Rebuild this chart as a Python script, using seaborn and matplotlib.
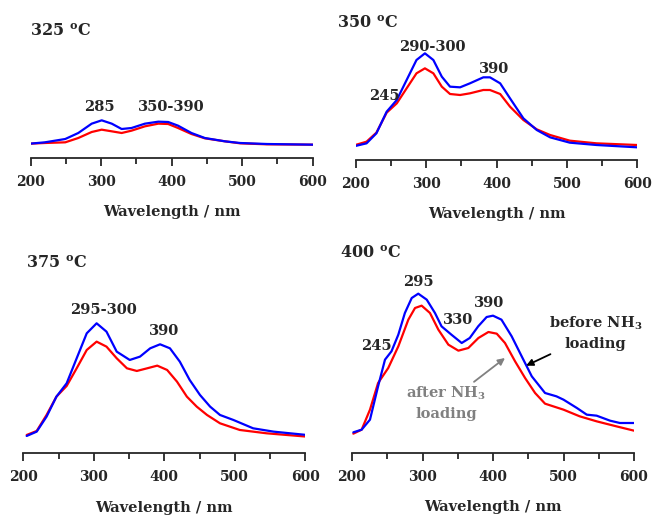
import numpy as np
import pandas as pd
import matplotlib
matplotlib.use("Agg")
import matplotlib.pyplot as plt
from matplotlib.ticker import MultipleLocator
import seaborn as sns

# Spectra (arbitrary absorbance units)
wl_325 = [199, 220, 249, 267.5, 286.5, 300.7, 315, 329, 343, 362, 381, 395, 409, 428, 447, 475.6, 497, 535, 600]
ab_325_before = [3, 7, 17, 35, 63, 73, 63, 47, 50, 63, 69, 68, 57, 35, 20, 10, 5, 2, 0]
ab_325_after = [3, 5, 7, 20, 38, 45, 40, 35, 42, 55, 63, 62, 50, 32, 19, 10, 4, 1, 0]

wl_350 = [199, 215, 229, 243.6, 258, 272, 286, 298, 310, 322, 333.7, 348, 362, 381, 390.5, 405, 419,
          438, 457, 476, 504, 542, 600]
ab_350_before = [-3, 5, 35, 100, 135, 195, 255, 275, 255, 205, 175, 173, 185, 203, 203, 185, 140,
                 80, 45, 23, 7, 0, -7]
ab_350_after = [0, 10, 37, 97, 125, 170, 215, 230, 215, 175, 153, 150, 155, 165, 165, 153, 115,
                75, 47, 30, 13, 5, 0]

wl_375_before = [204.8, 219, 233, 247, 261.5, 275.7, 290, 304, 318, 332.5, 351, 365.5, 380, 394, 408,
                 422, 436, 450.6, 465, 479, 498, 526, 555, 602]
ab_375_before = [-3, 10, 55, 115, 155, 230, 305, 335, 310, 250, 225, 235, 260, 272, 260,
                 220, 165, 120, 85, 60, 45, 20, 10, 0]
wl_375_after = [204.8, 219, 233, 247, 261.5, 275.7, 290, 304, 318, 332.5, 347, 361, 375.7, 390, 404,
                418, 432, 446, 460.6, 479, 507, 545, 602]
ab_375_after = [0, 12, 60, 115, 147, 200, 255, 280, 265, 230, 200, 192, 200, 208, 195,
                160, 115, 85, 60, 35, 15, 5, -5]

wl_400_before = [201.9, 213.7, 225.5, 237, 246.8, 256, 265.7, 275, 284.7, 294, 306, 317.7, 327, 341,
                 355.6, 367, 379, 391, 400, 412, 426.5, 440.7, 455, 473.8, 490, 500, 519, 533, 547,
                 566, 580, 600]
ab_400_before = [0, 8, 38, 138, 218, 243, 293, 358, 403, 416, 398, 358, 318, 293,
                 268, 283, 318, 346, 350, 338, 288, 228, 168, 118, 108, 98, 73, 53, 50,
                 35, 28, 28]
wl_400_after = [201.9, 213.7, 225.5, 237, 251.4, 265.7, 279.9, 289.4, 298.8, 310.6, 322.5, 336.7,
                350.9, 365, 379.3, 393.5, 405.3, 417, 431.3, 445.5, 459.7, 473.8, 500, 523, 547,
                575, 600]
ab_400_after = [-4, 8, 68, 148, 193, 258, 338, 373, 380, 358, 308, 263,
                245, 253, 283, 301, 296, 268, 213, 163, 118, 86, 68, 48, 33,
                18, 5]

sns.set_style("ticks")
plt.rcParams['font.family'] = ['DejaVu Serif']
plt.rcParams['font.weight'] = 'bold'
plt.rcParams['mathtext.fontset'] = 'custom'
plt.rcParams['mathtext.rm'] = 'DejaVu Serif:bold'
plt.rcParams['mathtext.it'] = 'DejaVu Serif:bold'
plt.rcParams['mathtext.bf'] = 'DejaVu Serif:bold'

W, H = 655, 516
fig = plt.figure(figsize=(6.55, 5.16), dpi=100)


def make_axes(x0, x1, axis_y, ylo, hpx):
    ax = fig.add_axes([x0 / W, (H - axis_y) / H, (x1 - x0) / W, hpx / H])
    ax.set_xlim(200, 600)
    ax.set_ylim(ylo, ylo + 3 * hpx)
    for s in ['left', 'top', 'right']:
        ax.spines[s].set_visible(False)
    ax.spines['bottom'].set_linewidth(1.3)
    ax.set_yticks([])
    ax.xaxis.set_major_locator(MultipleLocator(100))
    ax.xaxis.set_minor_locator(MultipleLocator(50))
    ax.tick_params(axis='x', which='major', length=6, width=1.3, pad=6, labelsize=10)
    ax.tick_params(axis='x', which='minor', length=4, width=1.3)
    ax.set_xlabel('Wavelength / nm', fontsize=10.5, fontweight='bold', labelpad=12)
    ax.set_ylabel('')
    return ax


def draw(ax, wb, yb, wa, ya):
    sns.lineplot(x=wa, y=ya, color='#ff0000', lw=1.6, ax=ax, solid_joinstyle='round')
    sns.lineplot(x=wb, y=yb, color='#0000ff', lw=1.6, ax=ax, solid_joinstyle='round')


ax1 = make_axes(30.7, 312.7, 158, -40, 138)
draw(ax1, wl_325, ab_325_before, wl_325, ab_325_after)
ax2 = make_axes(356, 637.3, 160, -45, 138)
draw(ax2, wl_350, ab_350_before, wl_350, ab_350_after)
ax3 = make_axes(23.3, 305.3, 453.3, -55, 200)
draw(ax3, wl_375_before, ab_375_before, wl_375_after, ab_375_after)
ax4 = make_axes(352, 634, 453, -62, 200)
draw(ax4, wl_400_before, ab_400_before, wl_400_after, ab_400_after)

lab = dict(ha='center', va='center', fontsize=10.5, fontweight='bold')
ax1.text(297, 113, '285', **lab)
ax1.text(400, 113, '350-390', **lab)
ax2.text(308, 295, '290-300', **lab)
ax2.text(396, 227, '390', **lab)
ax2.text(240, 148, '245', **lab)
ax3.text(313, 375, '295-300', **lab)
ax3.text(399, 313, '390', **lab)
ax4.text(294, 450, '295', **lab)
ax4.text(351, 338, '330', **lab)
ax4.text(395, 388, '390', **lab)
ax4.text(235, 260, '245', **lab)

ax4.annotate('before NH$_3$\nloading', xy=(447, 200), xytext=(545, 298),
             ha='center', va='center', fontsize=10.5, fontweight='bold', linespacing=1.4,
             arrowprops=dict(arrowstyle='-|>', color='black', lw=1.3,
                             shrinkA=22, shrinkB=0, mutation_scale=10))
ax4.annotate('after NH$_3$\nloading', xy=(417, 223), xytext=(334, 88),
             ha='center', va='center', fontsize=10.5, fontweight='bold', color='#808080',
             linespacing=1.4,
             arrowprops=dict(arrowstyle='-|>', color='#808080', lw=1.3,
                             shrinkA=30, shrinkB=0, mutation_scale=10))

titles = [('325 $^{o}$C', 30, 31), ('350 $^{o}$C', 337, 23),
          ('375 $^{o}$C', 26, 263), ('400 $^{o}$C', 340, 254)]
for t, x, y in titles:
    fig.text(x / W, 1 - y / H, t, ha='left', va='center', fontsize=11.5, fontweight='bold')

fig.savefig('out.png', dpi=100)
